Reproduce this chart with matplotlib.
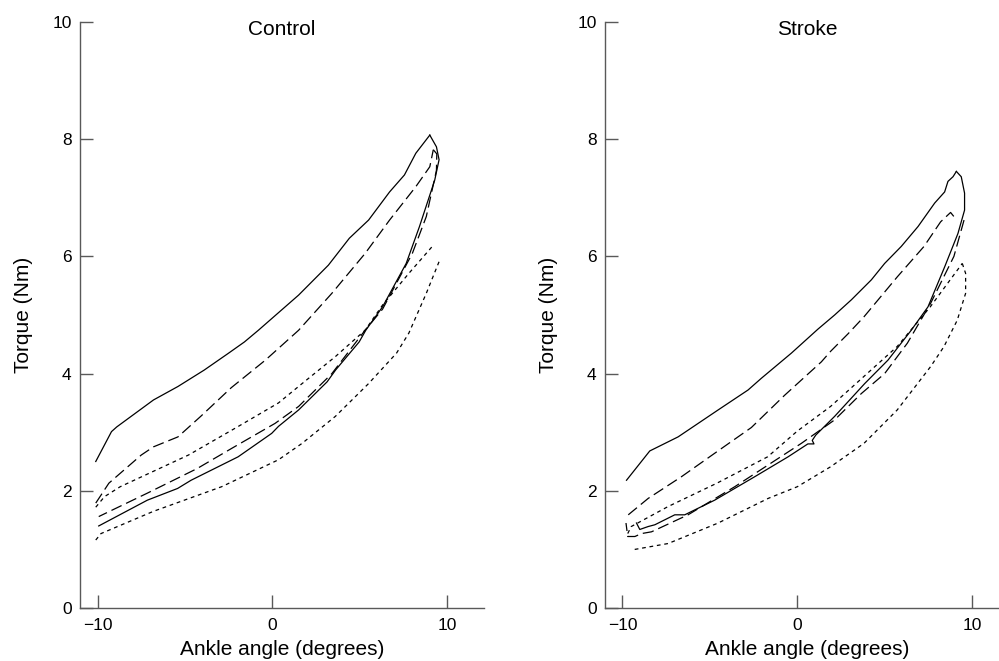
import matplotlib
matplotlib.use("Agg")
import matplotlib.pyplot as plt

plt.rcParams['font.family'] = ['Liberation Sans', 'DejaVu Sans']

# ---- Control panel (ankle angle in degrees, torque in Nm) ----
ctrl_solid_up_x = [-10.1, -9.2, -8.9, -6.8, -5.4, -3.9, -2.5, -1.6, -0.8, 1.5, 3.2, 4.4, 5.5, 6.7, 7.55, 8.2, 9.0]
ctrl_solid_up_y = [2.50, 3.01, 3.09, 3.55, 3.78, 4.06, 4.35, 4.54, 4.74, 5.34, 5.85, 6.31, 6.62, 7.10, 7.39, 7.76, 8.07]
ctrl_solid_lo_x = [9.0, 9.38, 9.53, 9.28, 8.41, 7.65, 6.30, 5.34, 4.96, 3.61, 3.13, 1.50, 0.35, -0.04, -1.96, -4.65, -5.42, -7.15, -9.93]
ctrl_solid_lo_y = [8.07, 7.87, 7.65, 7.30, 6.51, 5.88, 5.14, 4.74, 4.54, 4.06, 3.86, 3.38, 3.10, 2.98, 2.58, 2.18, 2.04, 1.84, 1.40]

ctrl_long_up_x = [-10.1, -9.35, -7.5, -6.8, -5.4, -4.1, -2.35, -0.4, 1.5, 3.4, 5.3, 6.7, 8.2, 9.0, 9.2]
ctrl_long_up_y = [1.79, 2.13, 2.61, 2.75, 2.92, 3.27, 3.76, 4.23, 4.74, 5.37, 6.05, 6.62, 7.19, 7.53, 7.82]
ctrl_long_lo_x = [9.2, 9.4, 9.38, 8.8, 8.0, 6.3, 5.3, 3.4, 1.5, 0.15, -2.35, -4.3, -7.15, -9.93]
ctrl_long_lo_y = [7.82, 7.75, 7.47, 6.68, 6.05, 5.10, 4.74, 4.00, 3.44, 3.15, 2.72, 2.38, 1.96, 1.56]

ctrl_short_up_x = [-10.1, -9.6, -8.7, -4.8, -2.0, 0.35, 1.7, 3.6, 5.3, 6.3, 7.8, 9.2]
ctrl_short_up_y = [1.72, 1.90, 2.07, 2.61, 3.09, 3.50, 3.83, 4.29, 4.74, 5.17, 5.71, 6.19]
ctrl_short_lo_x = [-10.1, -9.8, -6.8, -2.9, 0.35, 1.7, 3.6, 5.5, 7.1, 7.8, 8.8, 9.57]
ctrl_short_lo_y = [1.16, 1.27, 1.65, 2.07, 2.53, 2.81, 3.27, 3.83, 4.35, 4.69, 5.37, 5.94]

# ---- Stroke panel ----
strk_solid_up_x = [-9.77, -8.44, -6.82, -4.53, -2.82, -2.06, -0.34, 1.18, 2.13, 3.09, 4.23, 4.99, 5.94, 6.90, 7.85, 8.42, 8.61, 8.90, 9.09]
strk_solid_up_y = [2.18, 2.68, 2.92, 3.38, 3.72, 3.92, 4.35, 4.76, 5.00, 5.26, 5.60, 5.88, 6.17, 6.51, 6.91, 7.10, 7.28, 7.36, 7.45]
strk_solid_lo_x = [9.09, 9.37, 9.56, 9.56, 9.18, 8.42, 7.47, 6.51, 5.18, 3.85, 2.13, 1.05, 0.85, 0.95, 0.6, -0.53, -2.44, -4.73, -6.44, -7.01, -8.15, -8.53, -9.01, -9.2]
strk_solid_lo_y = [7.45, 7.36, 7.08, 6.79, 6.39, 5.82, 5.14, 4.74, 4.23, 3.83, 3.27, 2.95, 2.86, 2.80, 2.80, 2.58, 2.24, 1.84, 1.59, 1.59, 1.42, 1.39, 1.34, 1.45]

strk_long_up_x = [-9.67, -8.53, -6.63, -4.73, -2.63, -0.73, 1.37, 1.9, 2.90, 3.81, 5.71, 7.24, 8.19, 8.76, 8.95]
strk_long_up_y = [1.59, 1.87, 2.24, 2.64, 3.08, 3.63, 4.20, 4.38, 4.68, 4.97, 5.65, 6.17, 6.59, 6.75, 6.68]
strk_long_lo_x = [9.53, 8.95, 7.62, 6.29, 4.99, 3.66, 2.13, 0.23, -3.58, -6.25, -8.34, -8.91, -9.29, -9.7, -9.8]
strk_long_lo_y = [6.62, 6.00, 5.20, 4.52, 4.00, 3.66, 3.21, 2.81, 2.07, 1.59, 1.30, 1.27, 1.22, 1.22, 1.45]

strk_short_up_x = [-9.7, -9.5, -7.4, -4.6, -1.7, 0.0, 1.9, 3.8, 5.7, 7.6, 9.43]
strk_short_up_y = [1.27, 1.39, 1.73, 2.13, 2.58, 3.02, 3.44, 3.95, 4.46, 5.14, 5.88]
strk_short_lo_x = [9.43, 9.62, 9.62, 9.14, 8.38, 7.62, 5.71, 3.81, 1.90, 0.0, -1.67, -4.53, -7.39, -9.48]
strk_short_lo_y = [5.88, 5.71, 5.37, 4.91, 4.46, 4.12, 3.38, 2.81, 2.41, 2.07, 1.87, 1.45, 1.10, 0.99]

x_ticks = [-10, 0, 10]
y_ticks = [0, 2, 4, 6, 8, 10]

long_dash = (0, (9, 4))
short_dash = (0, (3, 3))


def draw_panel(ax, title, curves):
    for xs, ys, ls in curves:
        ax.plot(xs, ys, color='black', lw=0.9, linestyle=ls)
    ax.set_xlim(-11, 12.1)
    ax.set_ylim(0, 10)
    ax.set_xticks(x_ticks)
    ax.set_yticks(y_ticks)
    ax.set_xticklabels(['\u221210', '0', '10'])
    ax.spines['top'].set_visible(False)
    ax.spines['right'].set_visible(False)
    for s in ('left', 'bottom'):
        ax.spines[s].set_color('0.35')
        ax.spines[s].set_linewidth(1.0)
    ax.tick_params(direction='in', length=9.5, width=1.0, color='0.35',
                   labelsize=12.5, pad=6)
    ax.tick_params(axis='x', pad=7)
    ax.set_xlabel('Ankle angle (degrees)', fontsize=15)
    ax.set_ylabel('Torque (Nm)', fontsize=15)
    ax.xaxis.set_label_coords(0.5, -0.055)
    ax.yaxis.set_label_coords(-0.117, 0.5)
    ax.text(0.5, 0.978, title, transform=ax.transAxes, ha='center',
            va='baseline', fontsize=15)


fig = plt.figure(figsize=(9.99, 6.61), dpi=100)
ax1 = fig.add_axes([0.0801, 0.0802, 0.4044, 0.8865])
ax2 = fig.add_axes([0.6056, 0.0802, 0.4044, 0.8865])

draw_panel(ax1, 'Control', [
    (ctrl_solid_up_x, ctrl_solid_up_y, '-'),
    (ctrl_solid_lo_x, ctrl_solid_lo_y, '-'),
    (ctrl_long_up_x, ctrl_long_up_y, long_dash),
    (ctrl_long_lo_x, ctrl_long_lo_y, long_dash),
    (ctrl_short_up_x, ctrl_short_up_y, short_dash),
    (ctrl_short_lo_x, ctrl_short_lo_y, short_dash),
])

draw_panel(ax2, 'Stroke', [
    (strk_solid_up_x, strk_solid_up_y, '-'),
    (strk_solid_lo_x, strk_solid_lo_y, '-'),
    (strk_long_up_x, strk_long_up_y, long_dash),
    (strk_long_lo_x, strk_long_lo_y, long_dash),
    (strk_short_up_x, strk_short_up_y, short_dash),
    (strk_short_lo_x, strk_short_lo_y, short_dash),
])

fig.savefig('out.png', dpi=100)
